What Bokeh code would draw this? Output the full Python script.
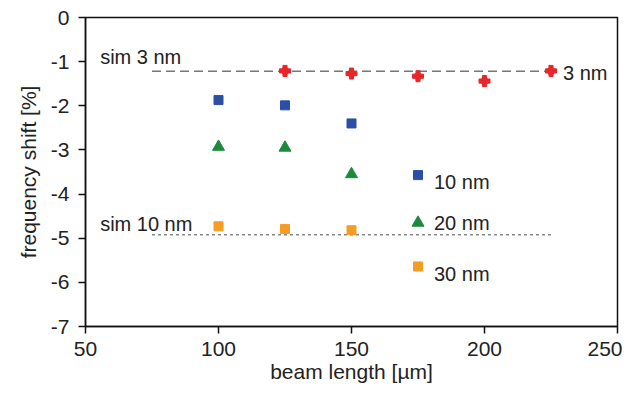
from bokeh.plotting import figure
from bokeh.models import Range1d, FixedTicker, Label, CustomJSTickFormatter
from bokeh.embed import file_html
from bokeh.resources import INLINE

# data
x_3nm = [125, 150, 175, 200, 225]
y_3nm = [-1.21, -1.27, -1.33, -1.44, -1.21]
x_10nm = [100, 125, 150, 175]
y_10nm = [-1.87, -1.99, -2.40, -3.57]
x_20nm = [100, 125, 150, 175]
y_20nm = [-2.93, -2.95, -3.55, -4.65]
x_30nm = [100, 125, 150, 175]
y_30nm = [-4.73, -4.79, -4.82, -5.64]
sim_x = [75, 225]
sim_3nm = [-1.22, -1.22]
sim_10nm = [-4.92, -4.92]
x_ticks = [50, 100, 150, 200, 250]
y_ticks = [0, -1, -2, -3, -4, -5, -6, -7]

FONT = "Liberation Sans"

p = figure(width=622, height=389, output_backend="svg", toolbar_location=None,
           x_range=Range1d(50, 250), y_range=Range1d(-7, 0),
           min_border_left=85, min_border_right=5, min_border_top=17, min_border_bottom=63)
p.outline_line_color = "#111111"
p.outline_line_width = 1.5
p.xgrid.visible = False
p.ygrid.visible = False
p.background_fill_color = "white"

for ax in (p.xaxis[0], p.yaxis[0]):
    ax.axis_line_width = 1.5
    ax.axis_line_color = "#111111"
    ax.major_tick_line_width = 1.5
    ax.major_tick_line_color = "#111111"
    ax.minor_tick_line_color = None
    ax.major_tick_in = 0
    ax.major_tick_out = 7
    ax.major_label_text_font = FONT
    ax.major_label_text_font_size = "21px"
    ax.major_label_text_color = "#222222"
    ax.axis_label_text_font = FONT
    ax.axis_label_text_font_size = "21px"
    ax.axis_label_text_font_style = "normal"
    ax.axis_label_text_color = "#222222"
    ax.formatter = CustomJSTickFormatter(code="return String(tick);")

p.xaxis.ticker = FixedTicker(ticks=x_ticks)
p.yaxis.ticker = FixedTicker(ticks=y_ticks)
p.xaxis.axis_label = "beam length [µm]"
p.yaxis.axis_label = "frequency shift [%]"
p.xaxis.major_label_standoff = 8
p.yaxis.major_label_standoff = 9
p.xaxis.axis_label_standoff = 1
p.yaxis.axis_label_standoff = 8

# simulation lines
p.line(sim_x, sim_3nm, line_color="#777777", line_width=1.5, line_dash="9 5")
p.line(sim_x, sim_10nm, line_color="#888888", line_width=1.5, line_dash="3 3")

# markers
p.scatter(x_3nm, y_3nm, marker="circle", size=7, fill_color="#e8262a", line_color="#e8262a")
p.scatter(x_3nm, y_3nm, marker="plus", size=11, fill_color="#e8262a", line_color="#e8262a")
p.scatter(x_10nm, y_10nm, marker="square", size=9, fill_color="#2b4fa6", line_color="#2b4fa6")
p.scatter(x_20nm, y_20nm, marker="triangle", size=12, fill_color="#1c8a3c", line_color="#1c8a3c")
p.scatter(x_30nm, y_30nm, marker="square", size=9, fill_color="#f59c22", line_color="#f59c22")

labels = [
    ("sim 3 nm", 55.5, -0.90),
    ("sim 10 nm", 55.5, -4.67),
    ("3 nm", 229.5, -1.26),
    ("10 nm", 181, -3.72),
    ("20 nm", 181, -4.66),
    ("30 nm", 181, -5.82),
]
for t, lx, ly in labels:
    p.add_layout(Label(x=lx, y=ly, text=t, text_font=FONT, text_font_size="20px",
                       text_color="#222222", text_baseline="middle", text_align="left"))

open("out.html", "w").write(file_html(p, INLINE))
